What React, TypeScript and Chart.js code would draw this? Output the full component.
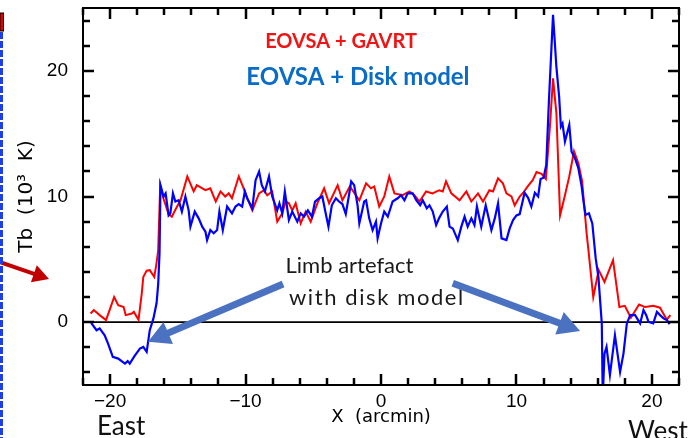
import React, { useEffect, useRef } from 'react';
import { Chart, registerables } from 'chart.js';

Chart.register(...registerables);

// ---- Data (X in arcmin, Tb in 10^3 K) ----
const redX = [-21.44, -21.2, -20.77, -20.3, -19.96, -19.7, -19.4, -19.0, -18.85, -18.4, -18.25, -17.9, -17.66, -17.55, -17.3, -17.07, -16.74, -16.6, -16.45, -16.3, -16.05, -15.68, -15.44, -15.2, -14.8, -14.3, -13.83, -13.6, -12.96, -12.6, -12.2, -11.85, -11.5, -11.24, -11.0, -10.5, -10.2, -9.88, -9.5, -9.0, -8.64, -8.4, -8.03, -7.66, -7.29, -7.04, -6.8, -6.55, -6.3, -5.93, -5.56, -5.19, -4.7, -4.2, -3.83, -3.2, -2.85, -2.3, -1.6, -1.1, -0.74, -0.5, -0.13, 0.24, 0.61, 0.99, 1.6, 2.1, 2.47, 2.84, 3.33, 3.8, 4.3, 4.56, 4.8, 5.19, 5.8, 6.3, 6.67, 7.16, 7.53, 8.0, 8.27, 8.64, 9.0, 9.26, 9.63, 9.87, 10.24, 10.5, 10.86, 11.2, 11.48, 11.85, 12.17, 12.47, 12.7, 12.95, 13.22, 13.58, 13.9, 14.25, 14.57, 14.85, 15.18, 15.3, 15.67, 16.07, 16.5, 17.13, 17.6, 18.0, 18.45, 19.05, 19.5, 20.1, 20.6, 21.1, 21.36];
const redY = [0.69, 0.96, 0.56, 0.16, 1.2, 2.0, 1.35, 1.2, 0.56, 0.69, 0.82, 0.2, 2.3, 3.6, 4.1, 4.14, 3.6, 4.5, 5.7, 10.9, 9.8, 8.6, 8.4, 8.9, 9.7, 11.6, 10.4, 10.9, 10.5, 10.65, 9.6, 10.4, 10.0, 10.25, 9.86, 11.6, 10.8, 9.9, 8.9, 10.25, 10.5, 10.1, 10.4, 8.0, 8.66, 9.6, 9.46, 8.9, 9.46, 7.86, 8.8, 8.0, 9.46, 10.65, 9.46, 10.9, 9.7, 10.8, 9.7, 11.05, 10.65, 10.8, 9.2, 10.0, 11.6, 10.25, 10.1, 10.4, 10.1, 9.6, 10.4, 10.25, 10.5, 10.4, 11.2, 10.25, 9.7, 10.4, 9.6, 10.25, 9.6, 10.5, 10.4, 11.45, 11.05, 10.25, 10.0, 9.3, 10.0, 10.3, 10.85, 11.3, 11.95, 11.8, 11.4, 15.56, 19.4, 16.6, 8.5, 10.1, 11.6, 13.6, 12.65, 11.2, 7.07, 5.87, 2.0, 4.14, 3.2, 4.94, 1.2, 1.3, 0.35, 1.4, 1.2, 1.3, 1.15, 0.2, 0.56];

const blueX = [-21.4, -21.0, -20.77, -20.4, -20.15, -19.8, -19.4, -19.15, -18.9, -18.7, -18.55, -18.2, -17.8, -17.55, -17.3, -17.07, -16.8, -16.57, -16.45, -16.35, -16.28, -16.05, -15.9, -15.68, -15.55, -15.36, -15.18, -14.94, -14.7, -14.44, -14.2, -14.07, -13.75, -13.46, -13.2, -12.96, -12.84, -12.6, -12.35, -12.1, -11.93, -11.68, -11.36, -11.0, -10.74, -10.5, -10.25, -10.05, -9.88, -9.5, -9.26, -9.0, -8.8, -8.57, -8.27, -8.03, -7.66, -7.5, -7.29, -7.1, -6.8, -6.55, -6.18, -5.93, -5.68, -5.4, -5.1, -4.87, -4.57, -4.33, -4.13, -3.88, -3.63, -3.33, -3.1, -2.85, -2.6, -2.35, -2.2, -1.98, -1.73, -1.6, -1.24, -1.1, -0.87, -0.62, -0.37, -0.25, 0.0, 0.24, 0.5, 0.86, 1.23, 1.48, 1.73, 1.97, 2.34, 2.6, 2.89, 3.08, 3.38, 3.58, 3.82, 4.07, 4.3, 4.56, 4.86, 5.06, 5.3, 5.67, 5.93, 6.17, 6.4, 6.67, 6.9, 7.08, 7.4, 7.73, 7.9, 8.15, 8.4, 8.64, 8.9, 9.26, 9.5, 9.75, 10.0, 10.24, 10.6, 10.86, 11.1, 11.36, 11.6, 11.78, 12.0, 12.2, 12.4, 12.7, 12.95, 13.15, 13.28, 13.4, 13.58, 13.9, 14.07, 14.32, 14.57, 14.8, 14.97, 15.1, 15.35, 15.6, 15.85, 16.05, 16.3, 16.37, 16.5, 16.65, 16.9, 17.27, 17.65, 17.9, 18.15, 18.4, 18.76, 19.13, 19.38, 19.58, 19.75, 20.1, 20.37, 20.6, 20.86, 21.1, 21.3];
const blueY = [-0.05, -0.64, -0.5, -1.04, -1.7, -2.76, -2.9, -3.1, -3.3, -3.1, -3.3, -2.7, -2.1, -1.97, -2.36, -0.64, 0.3, 1.5, 3.0, 5.5, 10.9, 10.0, 10.25, 8.5, 8.66, 10.25, 9.6, 9.7, 8.8, 10.0, 8.9, 7.6, 8.8, 8.26, 7.6, 7.2, 6.53, 7.33, 7.07, 7.33, 8.8, 7.33, 9.2, 8.66, 9.2, 9.4, 9.2, 10.4, 9.86, 9.06, 11.3, 11.98, 10.9, 10.4, 11.6, 10.0, 8.9, 9.46, 8.66, 10.4, 8.13, 8.8, 8.0, 8.66, 8.4, 8.9, 8.4, 9.6, 9.86, 10.0, 8.9, 7.6, 9.3, 9.86, 9.6, 9.4, 8.6, 10.2, 11.2, 10.9, 9.3, 7.86, 9.6, 9.7, 8.26, 7.33, 8.0, 6.67, 7.86, 8.8, 8.4, 9.6, 9.86, 10.1, 9.7, 10.25, 10.25, 9.7, 9.3, 9.7, 9.06, 9.3, 8.8, 7.73, 8.3, 8.8, 9.2, 7.6, 7.46, 6.53, 7.6, 8.4, 7.6, 8.26, 7.73, 9.2, 7.6, 9.3, 8.5, 7.33, 8.26, 9.46, 6.67, 6.53, 7.46, 8.13, 8.5, 8.6, 10.3, 9.9, 9.2, 10.3, 10.0, 11.4, 11.5, 12.5, 17.7, 24.46, 20.3, 17.95, 15.56, 15.8, 14.37, 15.7, 13.57, 13.04, 12.25, 10.9, 9.46, 8.53, 8.66, 7.86, 5.07, 3.6, -0.1, -6.0, -2.5, -1.96, -4.2, -1.04, -3.96, -2.5, -0.1, 0.56, 0.56, -0.1, 0.96, 0.56, 0.03, -0.1, 0.82, 0.56, 0.3, 0.16, -0.16];

const zeroLineX = [-22, 22];
const zeroLineY = [0, 0];

// tick positions (minor every 2) and labelled ticks
const xTickValues = [-22, -20, -18, -16, -14, -12, -10, -8, -6, -4, -2, 0, 2, 4, 6, 8, 10, 12, 14, 16, 18, 20, 22];
const yTickValues = [-4, -2, 0, 2, 4, 6, 8, 10, 12, 14, 16, 18, 20, 22, 24];
const xTickLabels = [-20, -10, 0, 10, 20];
const yTickLabels = [0, 10, 20];

const seriesLabels = ['EOVSA + GAVRT', 'EOVSA + Disk model'];
const xTitle = 'X  (arcmin)';
const yTitle = 'Tb  (10\u00B3  K)';
const limbText = ['Limb artefact', 'with disk model'];

const fmt = (v: number) => (v < 0 ? '\u2212' + Math.abs(v) : String(v));
const zip = (xs: number[], ys: number[]) => xs.map((x, i) => ({ x, y: ys[i] }));

function drawArrow(ctx: CanvasRenderingContext2D, x1: number, y1: number, x2: number, y2: number, color: string, width: number, headLen: number, headHalf: number) {
  const ang = Math.atan2(y2 - y1, x2 - x1);
  const bx = x2 - headLen * Math.cos(ang);
  const by = y2 - headLen * Math.sin(ang);
  ctx.save();
  ctx.strokeStyle = color;
  ctx.fillStyle = color;
  ctx.lineWidth = width;
  ctx.lineCap = 'butt';
  ctx.beginPath();
  ctx.moveTo(x1, y1);
  ctx.lineTo(bx + Math.cos(ang), by + Math.sin(ang));
  ctx.stroke();
  ctx.beginPath();
  ctx.moveTo(x2, y2);
  ctx.lineTo(bx + headHalf * Math.sin(ang), by - headHalf * Math.cos(ang));
  ctx.lineTo(bx - headHalf * Math.sin(ang), by + headHalf * Math.cos(ang));
  ctx.closePath();
  ctx.fill();
  ctx.restore();
}

const framePlugin = {
  id: 'frameAndNotes',
  afterDraw(chart: any) {
    const { ctx, chartArea: a, scales } = chart;
    const xs = scales.x;
    const ys = scales.y;
    ctx.save();
    ctx.setLineDash([]);
    // frame
    ctx.strokeStyle = '#000000';
    ctx.lineWidth = 2;
    ctx.strokeRect(a.left, a.top, a.right - a.left, a.bottom - a.top);
    // inward ticks
    ctx.fillStyle = '#000000';
    const tw = 2.5;
    for (let i = 0; i < xTickValues.length; i++) {
      const v = xTickValues[i];
      const p = Math.round(xs.getPixelForValue(v));
      const len = xTickLabels.indexOf(v) >= 0 ? 11 : 7;
      ctx.fillRect(p - tw / 2, a.bottom - len, tw, len);
      ctx.fillRect(p - tw / 2, a.top, tw, len);
    }
    for (let i = 0; i < yTickValues.length; i++) {
      const v = yTickValues[i];
      const p = Math.round(ys.getPixelForValue(v));
      const len = yTickLabels.indexOf(v) >= 0 ? 11 : 7;
      ctx.fillRect(a.left, p - tw / 2, len, tw);
      ctx.fillRect(a.right - len, p - tw / 2, len, tw);
    }

    const X = (v: number) => xs.getPixelForValue(v);
    const Y = (v: number) => ys.getPixelForValue(v);

    // series labels
    ctx.textAlign = 'center';
    ctx.textBaseline = 'middle';
    ctx.font = 'bold 20px Lato';
    ctx.fillStyle = '#F01414';
    ctx.fillText(seriesLabels[0], X(-2.95), Y(22.3));
    ctx.font = 'bold 24px Lato';
    ctx.fillStyle = '#0A6CC6';
    ctx.fillText(seriesLabels[1], X(-1.7), Y(19.5));

    // limb artefact text
    ctx.textAlign = 'left';
    ctx.font = '22px Lato';
    ctx.fillStyle = '#1a1a1a';
    ctx.fillText(limbText[0], X(-7.05), Y(4.47));
    (ctx as any).letterSpacing = '1.6px';
    ctx.fillText(limbText[1], X(-6.8), Y(1.93));
    (ctx as any).letterSpacing = '0px';

    // blue arrows
    drawArrow(ctx, X(-7.23), Y(3.04), X(-17.2), Y(-1.55), '#4A72C0', 7, 22, 12);
    drawArrow(ctx, X(5.3), Y(3.1), X(14.7), Y(-0.7), '#4A72C0', 7, 22, 12);

    // East / West
    ctx.font = '26px Lato';
    ctx.fillStyle = '#111';
    ctx.textBaseline = 'alphabetic';
    ctx.fillText('East', 97, 435);
    ctx.fillText('West', 628, 440);

    // red arrow from the left (cropped)
    drawArrow(ctx, -6, 260, 49, 279, '#C00000', 4, 16, 9);

    // left cropped border decoration
    ctx.strokeStyle = '#1E3FE6';
    ctx.lineWidth = 3;
    ctx.setLineDash([7, 2]);
    ctx.beginPath();
    ctx.moveTo(1.5, 32);
    ctx.lineTo(1.5, 438);
    ctx.stroke();
    ctx.setLineDash([]);
    ctx.fillStyle = '#E00000';
    ctx.fillRect(0, 13, 3, 18);
    ctx.strokeStyle = '#000';
    ctx.lineWidth = 1;
    ctx.strokeRect(0, 13, 3.5, 18);
    ctx.restore();
  },
};

export default function App() {
  const ref = useRef<HTMLCanvasElement | null>(null);
  useEffect(() => {
    if (!ref.current) return;
    const chart = new Chart(ref.current, {
      type: 'scatter',
      data: {
        datasets: [
          { label: seriesLabels[1], data: zip(blueX, blueY), showLine: true, borderColor: '#0000FF', borderWidth: 2.2, pointRadius: 0, tension: 0 },
          { label: seriesLabels[0], data: zip(redX, redY), showLine: true, borderColor: '#FF0000', borderWidth: 2, pointRadius: 0, tension: 0 },
          { label: 'zero', data: zip(zeroLineX, zeroLineY), showLine: true, borderColor: '#000', borderWidth: 1.6, pointRadius: 0 },
        ],
      },
      options: {
        animation: false,
        responsive: false,
        devicePixelRatio: 1,
        layout: { padding: { top: 8, right: 17, left: 0, bottom: 0 } },
        plugins: { legend: { display: false }, tooltip: { enabled: false } },
        scales: {
          x: {
            type: 'linear',
            min: -22,
            max: 22,
            grid: { display: false, drawTicks: false },
            border: { display: false },
            afterBuildTicks: (s: any) => { s.ticks = xTickValues.map((value) => ({ value })); },
            ticks: {
              autoSkip: false,
              maxRotation: 0,
              padding: 5,
              color: '#000',
              font: { family: 'Liberation Sans', size: 19 },
              callback: (v: any) => (xTickLabels.includes(Number(v)) ? fmt(Number(v)) : ''),
            },
            title: { display: true, text: xTitle, color: '#000', font: { family: 'DejaVu Sans', size: 18 }, padding: { top: 0, bottom: 10 } },
            afterFit: (s: any) => { s.height = 53; s.paddingLeft = 0; s.paddingRight = 0; },
          },
          y: {
            type: 'linear',
            min: -5,
            max: 25,
            grid: { display: false, drawTicks: false },
            border: { display: false },
            afterBuildTicks: (s: any) => { s.ticks = yTickValues.map((value) => ({ value })); },
            ticks: {
              autoSkip: false,
              padding: 15,
              color: '#000',
              font: { family: 'Liberation Sans', size: 19 },
              callback: (v: any) => (yTickLabels.includes(Number(v)) ? fmt(Number(v)) : ''),
            },
            title: { display: true, text: yTitle, color: '#000', font: { family: 'DejaVu Sans', size: 20 }, padding: { top: 15, bottom: 0 } },
            afterFit: (s: any) => { s.width = 83; s.paddingTop = 0; s.paddingBottom = 0; },
          },
        },
      },
      plugins: [framePlugin],
    });
    return () => chart.destroy();
  }, []);
  return (
    <div style={{ position: 'fixed', left: 0, top: 0, width: 696, height: 438, background: '#fff' }}>
      <canvas ref={ref} width={696} height={438} style={{ display: 'block' }} />
    </div>
  );
}
